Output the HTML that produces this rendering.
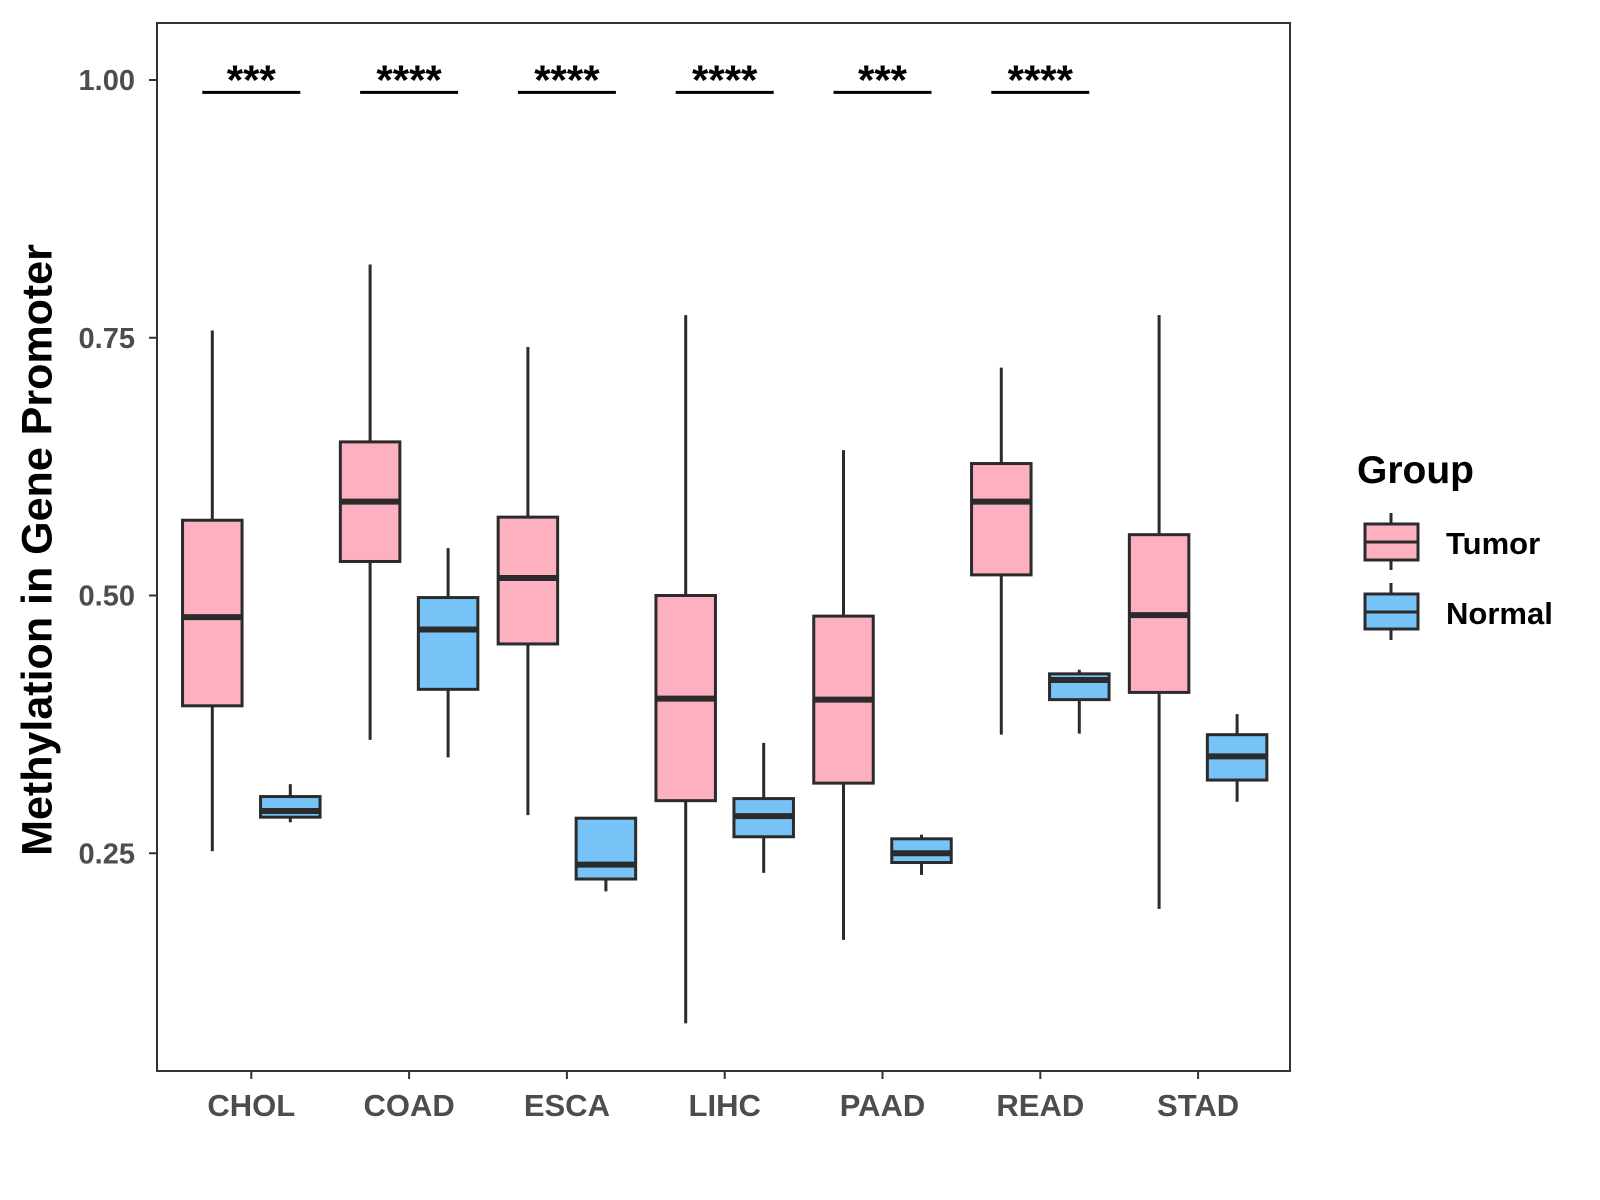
<!DOCTYPE html>
<html><head><meta charset="utf-8"><style>
html,body{margin:0;padding:0;background:#fff;}
svg{display:block;font-family:"Liberation Sans",Arial,sans-serif;font-weight:bold;}
</style></head><body>
<svg id="chart" width="1600" height="1200" viewBox="0 0 1600 1200">
<rect x="157" y="23" width="1133" height="1048" fill="#fff" stroke="#333" stroke-width="2"/>
<g id="yaxis"></g>
<g id="xaxis"></g>
<g id="boxes"></g>
<g id="sig"></g>
<text x="40" y="550" transform="rotate(-90 40 550)" text-anchor="middle" font-size="43" fill="#000" dominant-baseline="middle">Methylation in Gene Promoter</text>
<g>
<text x="1357" y="483" font-size="39" fill="#000">Group</text>
<g>
<line x1="1391" x2="1391" y1="513" y2="570" stroke="#2b2b2b" stroke-width="3"/>
<rect x="1365" y="524" width="53" height="36" fill="#FDB0C0" stroke="#2b2b2b" stroke-width="3"/>
<line x1="1365" x2="1418" y1="542" y2="542" stroke="#2b2b2b" stroke-width="3"/>
<text x="1446" y="554" font-size="31" fill="#000">Tumor</text>
</g>
<g>
<line x1="1391" x2="1391" y1="583" y2="640" stroke="#2b2b2b" stroke-width="3"/>
<rect x="1365" y="594" width="53" height="35" fill="#77C3F7" stroke="#2b2b2b" stroke-width="3"/>
<line x1="1365" x2="1418" y1="612" y2="612" stroke="#2b2b2b" stroke-width="3"/>
<text x="1446" y="624" font-size="31" fill="#000">Normal</text>
</g>
</g>
</svg>
<script>
const categories = ["CHOL","COAD","ESCA","LIHC","PAAD","READ","STAD"];
// [whiskerLow, Q1, median, Q3, whiskerHigh]
const tumorStats = [
 [0.252,0.393,0.479,0.573,0.757],
 [0.360,0.533,0.591,0.649,0.821],
 [0.287,0.453,0.517,0.576,0.741],
 [0.085,0.301,0.400,0.500,0.772],
 [0.166,0.318,0.399,0.480,0.641],
 [0.365,0.520,0.591,0.628,0.721],
 [0.196,0.406,0.481,0.559,0.772]
];
const normalStats = [
 [0.280,0.285,0.291,0.305,0.317],
 [0.343,0.409,0.467,0.498,0.546],
 [0.213,0.225,0.239,0.284,0.284],
 [0.231,0.266,0.286,0.303,0.357],
 [0.229,0.241,0.250,0.264,0.268],
 [0.366,0.399,0.418,0.424,0.428],
 [0.300,0.321,0.344,0.365,0.385]
];
const sigLabels = ["***","****","****","****","***","****",""];
const yTicks = [0.25,0.50,0.75,1.00];
const yTickLabels = ["0.25","0.50","0.75","1.00"];
const sigLevel = 0.988;

const NS="http://www.w3.org/2000/svg";
function y(v){return 80+(1-v)*1031;}
function x(i){return 251.3+i*157.8;}
function mk(tag,attrs,parent){const e=document.createElementNS(NS,tag);for(const k in attrs)e.setAttribute(k,attrs[k]);parent.appendChild(e);return e;}
const ya=document.getElementById('yaxis'),xa=document.getElementById('xaxis'),bx=document.getElementById('boxes'),sg=document.getElementById('sig');
yTicks.forEach((v,i)=>{
 const l=mk('line',{x1:149,x2:157,y1:y(v),y2:y(v),stroke:'#333','stroke-width':2},ya);
 
 
 const t=mk('text',{x:135,y:y(v)+10,'text-anchor':'end','font-size':29,fill:'#4d4d4d'},ya);
 t.textContent=yTickLabels[i];
 
 
});
categories.forEach((c,i)=>{
 const l=mk('line',{x1:x(i),x2:x(i),y1:1071,y2:1079,stroke:'#333','stroke-width':2},xa);
 
 
 const t=mk('text',{x:x(i),y:1116,'text-anchor':'middle','font-size':31,fill:'#4d4d4d'},xa);
 t.textContent=c;
 
 
});
function drawBox(s,cx,fill,name){
 const g=mk('g',{},bx);
 
 
 const w=59.5;
 mk('line',{x1:cx,x2:cx,y1:y(s[0]),y2:y(s[4]),stroke:'#2b2b2b','stroke-width':3},g);
 mk('rect',{x:cx-w/2,y:y(s[3]),width:w,height:y(s[1])-y(s[3]),fill:fill,stroke:'#2b2b2b','stroke-width':3},g);
 mk('line',{x1:cx-w/2,x2:cx+w/2,y1:y(s[2]),y2:y(s[2]),stroke:'#2b2b2b','stroke-width':6},g);
}
categories.forEach((c,i)=>{
 drawBox(tumorStats[i],x(i)-39,'#FDB0C0','box-tumor-'+c.toLowerCase());
 drawBox(normalStats[i],x(i)+39,'#77C3F7','box-normal-'+c.toLowerCase());
 if(sigLabels[i]){
  const l=mk('line',{x1:x(i)-49,x2:x(i)+49,y1:y(sigLevel),y2:y(sigLevel),stroke:'#000','stroke-width':3},sg);
  
  
  const t=mk('text',{x:x(i),y:y(sigLevel)+2,'text-anchor':'middle','font-size':42,fill:'#000'},sg);
  t.textContent=sigLabels[i];
  
  
 }
});
</script>
</body></html>
